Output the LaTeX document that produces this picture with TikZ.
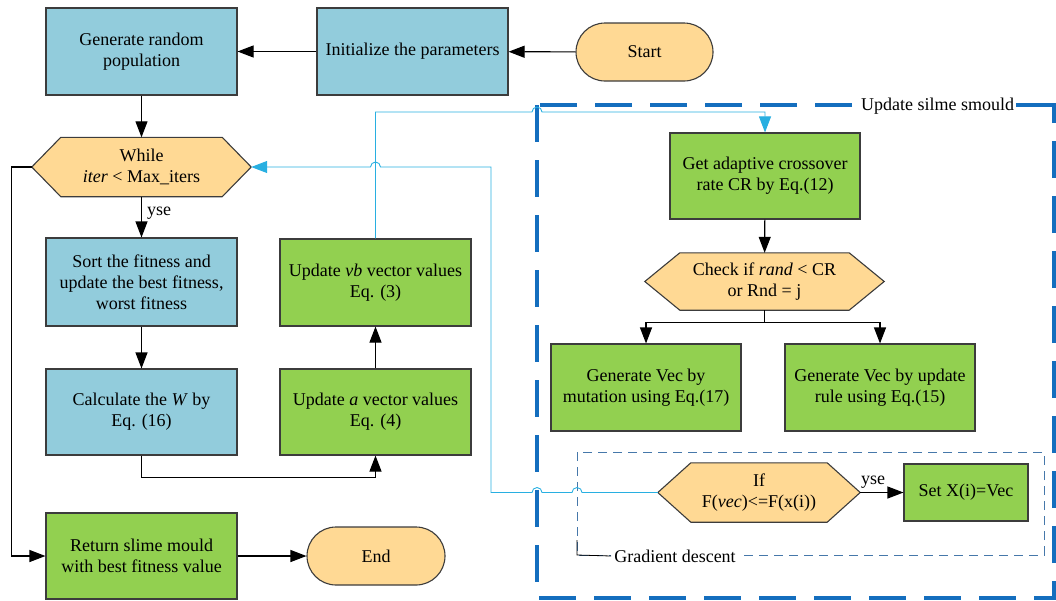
\documentclass[tikz,border=0pt]{standalone}
\usepackage{fontspec}
\setmainfont{Liberation Serif}
\usetikzlibrary{arrows.meta,shapes.misc,backgrounds}
\definecolor{boxblue}{RGB}{146,204,220}
\definecolor{boxgreen}{RGB}{146,208,80}
\definecolor{boxyellow}{RGB}{255,217,148}
\definecolor{bordc}{RGB}{60,60,60}
\definecolor{cyanline}{RGB}{40,175,225}
\definecolor{bigdash}{RGB}{20,110,190}
\definecolor{smalldash}{RGB}{70,120,170}
\newcommand\dfont{\fontsize{18}{21}\selectfont}
\begin{document}
\begin{tikzpicture}[x=1pt,y=-1pt,
  font=\dfont,
  boxbase/.style={draw=bordc, line width=1.1pt, minimum width=191pt, minimum height=87pt, inner sep=2pt, align=center},
  bluebox/.style={boxbase, fill=boxblue},
  greenbox/.style={boxbase, fill=boxgreen},
  term/.style={rounded rectangle, draw=bordc, line width=1.1pt, fill=boxyellow, minimum width=141pt, minimum height=58pt, inner sep=2pt},
  hexnode/.style={draw=none, minimum height=59pt, inner sep=0pt, align=center},
  hexdraw/.style={draw=bordc, line width=1.1pt, fill=boxyellow},
  arr/.style={draw=black, line width=1.1pt, -{Triangle[length=16pt,width=12pt]}},
  carr/.style={draw=cyanline, line width=0.9pt, -{Triangle[length=16pt,width=12pt]}},
  lbl/.style={inner sep=1pt},
  bigline/.style={bigdash, line width=3.5pt}
]
\useasboundingbox (0,0) rectangle (1056,600);

% dashed containers
\draw[bigline, dash pattern=on 37pt off 18pt] (537,105) rectangle (1054,598);
\draw[smalldash, line width=0.9pt, dash pattern=on 9pt off 6pt] (577,452) rectangle (1044,555);

% nodes
\node[bluebox] (gen) at (141.5,51.5) {Generate random\\population};
\node[bluebox] (init) at (412.5,51.5) {Initialize the parameters};
\node[term] (start) at (644.5,52) {Start};
\node[hexnode, minimum width=219pt] (while) at (141.5,167) {While\\\textit{iter} < Max\_iters};
\node[bluebox, minimum height=88pt] (sort) at (141.5,282) {Sort the fitness and\\update the best fitness,\\worst fitness};
\node[greenbox] (vb) at (375.5,282.5) {Update \textit{vb} vector values\\Eq. (3)};
\node[bluebox, minimum height=86pt] (calc) at (141.5,412) {Calculate the \textit{W} by\\Eq. (16)};
\node[greenbox, minimum height=86pt] (upa) at (375.5,412) {Update \textit{a} vector values\\Eq. (4)};
\node[greenbox, minimum height=86pt] (ret) at (141.5,556) {Return slime mould\\with best fitness value};
\node[term, minimum width=142pt] (endn) at (376,556) {End};

\node[greenbox, minimum width=190pt, minimum height=86pt] (cr) at (765,176) {Get adaptive crossover\\rate CR by Eq.(12)};
\node[hexnode, minimum width=239pt, minimum height=57pt] (check) at (764.5,281.5) {Check if \textit{rand} < CR\\or Rnd = j};
\node[greenbox, minimum width=190pt] (mut) at (646,387.5) {Generate Vec by\\mutation using Eq.(17)};
\node[greenbox, minimum width=190pt] (upd) at (880,387.5) {Generate Vec by update\\rule using Eq.(15)};
\node[hexnode, minimum width=202pt] (ifn) at (759,492.5) {If\\F(\textit{vec})<=F(x(i))};
\node[greenbox, minimum width=124pt, minimum height=57pt] (setx) at (966,492.5) {Set X(i)=Vec};

% labels
\node[lbl, fill=white, inner xsep=2pt] (biglab) at (937.5,106) {Update silme smould};
\coordinate (bigtr) at (1054,105);
\draw[bigline] (biglab.east |- bigtr) -- (bigtr);
\node[lbl, fill=white, inner xsep=3pt] (gdlab) at (675,556) {Gradient descent};
\draw[black, line width=0.8pt] (577,540) -- (577,555) -- (gdlab.west);

% hexagons
\begin{scope}[on background layer]
\foreach \n/\d in {while/29,check/35,ifn/33}
  \draw[hexdraw] (\n.west) -- ([xshift=\d pt]\n.north west) -- ([xshift=-\d pt]\n.north east)
    -- (\n.east) -- ([xshift=-\d pt]\n.south east) -- ([xshift=\d pt]\n.south west) -- cycle;
\end{scope}

% black connectors
\draw[arr] (start) -- (init);
\draw[arr] (init) -- (gen);
\draw[arr] (gen) -- (while);
\draw[arr] (while) -- node[lbl, right=4pt, pos=0.4] (yse1) {yse} (sort);
\draw[arr] (sort) -- (calc);
\draw[arr] (calc.south) -- ++(0,22) -| (upa.south);
\draw[arr] (upa) -- (vb);
\draw[arr] (while.west) -- ++(-20,0) |- (ret.west);
\draw[arr] (ret) -- (endn);
\draw[arr] (cr) -- (check);
\draw[arr] (check.south) -- ++(0,12) -| (mut.north);
\draw[arr] (check.south) -- ++(0,12) -| (upd.north);
\draw[arr] (ifn.east) -- node[lbl, above=3pt, pos=0.3] (yse2) {yse} (setx.west);

% cyan connectors with line hops
\draw[carr] (vb.north) -- (375.5,112) -- (532,112) arc (180:360:5) -- (765,112) -- (cr.north);
\draw[carr] (ifn.west) -- (582,492.5) arc (0:-180:5) -- (542,492.5) arc (0:-180:5)
  -- (491,492.5) -- (491,167) -- (380.5,167) arc (0:-180:5) -- (while.east);
\end{tikzpicture}
\end{document}
